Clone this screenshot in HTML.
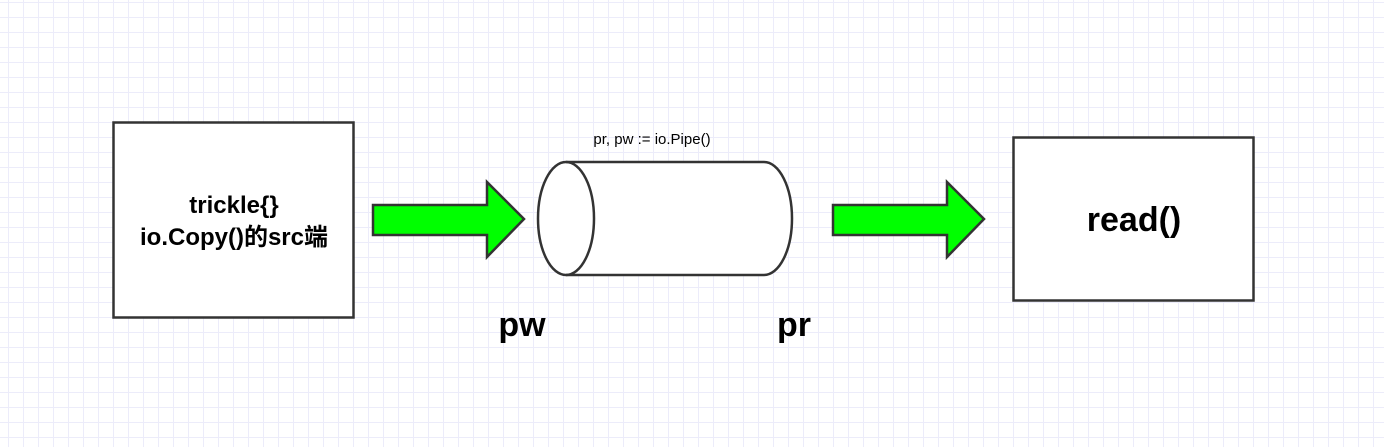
<!DOCTYPE html>
<html><head><meta charset="utf-8"><style>
body{margin:0;width:1384px;height:447px;overflow:hidden;background:#fff;
background-image:linear-gradient(to right,#ececfa 1px,transparent 1px),linear-gradient(to bottom,#ececfa 1px,transparent 1px);
background-size:15px 15px;background-position:8px 2px;}
svg{position:absolute;left:0;top:0}
</style></head><body>
<svg width="1384" height="447" font-family="Liberation Sans, Noto Sans CJK SC, sans-serif">
<rect x="113.5" y="122.5" width="240" height="195" fill="#fff" stroke="#333" stroke-width="2.5"/>
<text x="234" y="213" text-anchor="middle" font-size="24" font-weight="bold">trickle{}</text>
<text x="234" y="245" text-anchor="middle" font-size="24" font-weight="bold">io.Copy()的src端</text>
<path d="M373,205 H487 V182 L524,219 L487,257 V235 H373 Z" fill="#00ff00" stroke="#333" stroke-width="2.5"/>
<path d="M833,205 H947 V182 L984,219 L947,257 V235 H833 Z" fill="#00ff00" stroke="#333" stroke-width="2.5"/>
<path d="M566,162 H764 A28,56.5 0 0 1 764,275 H566 A28,56.5 0 0 1 566,162 Z" fill="#fff" stroke="#333" stroke-width="2.5"/>
<path d="M566,162 A28,56.5 0 0 1 566,275" fill="none" stroke="#333" stroke-width="2.5"/>
<text x="652" y="144" text-anchor="middle" font-size="15">pr, pw := io.Pipe()</text>
<text x="522" y="336" text-anchor="middle" font-size="34" font-weight="bold">pw</text>
<text x="794" y="336" text-anchor="middle" font-size="34" font-weight="bold">pr</text>
<rect x="1013.5" y="137.5" width="240" height="163" fill="#fff" stroke="#333" stroke-width="2.5"/>
<text x="1134" y="231" text-anchor="middle" font-size="34" font-weight="bold">read()</text>
</svg>
</body></html>
